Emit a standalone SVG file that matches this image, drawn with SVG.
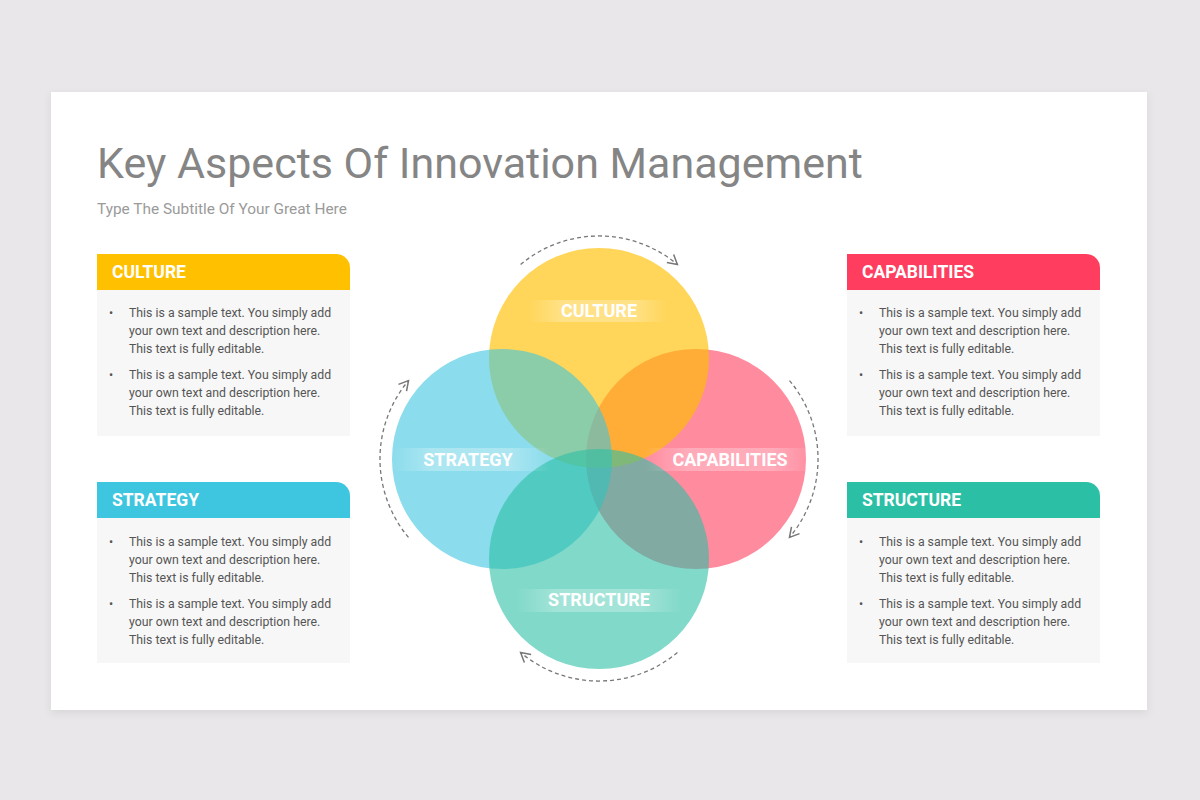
<svg xmlns="http://www.w3.org/2000/svg" width="1200" height="800" viewBox="0 0 1200 800">
<defs>
<style>
.title{font-family:Roboto,"Liberation Sans",sans-serif;font-size:43px;fill:#858585}
.sub{font-family:Roboto,"Liberation Sans",sans-serif;font-size:15.4px;fill:#9a9a9a}
.hd{font-family:Roboto,"Liberation Sans",sans-serif;font-size:17.5px;font-weight:bold;fill:#fff}
.body{font-family:Roboto,"Liberation Sans",sans-serif;font-size:12.3px;fill:#555}
.lbl{font-family:Roboto,"Liberation Sans",sans-serif;font-size:18px;font-weight:bold;fill:#fff;text-anchor:middle}
.cardbg{fill:#f7f7f7}
.arc{fill:none;stroke:#777;stroke-width:1.3;stroke-dasharray:4 3;marker-end:url(#arr)}
</style>
<marker id="arr" markerUnits="userSpaceOnUse" markerWidth="14" markerHeight="14" viewBox="0 0 12 12" refX="10" refY="6" orient="auto">
<path d="M2,1.5 L10,6 L2,10.5" fill="none" stroke="#777" stroke-width="1.3"/>
</marker>
<linearGradient id="band" x1="0" y1="0" x2="1" y2="0">
<stop offset="0" stop-color="#fff" stop-opacity="0"/>
<stop offset="0.25" stop-color="#fff" stop-opacity="0.28"/>
<stop offset="0.75" stop-color="#fff" stop-opacity="0.28"/>
<stop offset="1" stop-color="#fff" stop-opacity="0"/>
</linearGradient>
<filter id="sh" x="-5%" y="-5%" width="110%" height="115%">
<feDropShadow dx="0" dy="3" stdDeviation="4" flood-color="#000" flood-opacity="0.08"/>
</filter>
</defs>
<rect width="1200" height="800" fill="#e9e7e9"/>
<rect x="51" y="92" width="1096" height="618" fill="#fff" filter="url(#sh)"/>

<g id="title">
<text class="title" x="97" y="178">Key Aspects Of Innovation Management</text>
<text class="sub" x="97" y="214">Type The Subtitle Of Your Great Here</text>
</g>

<g id="venn">
<circle cx="696" cy="459" r="110" fill="#ff3e5f" fill-opacity="0.6"/>
<circle cx="599" cy="358" r="110" fill="#ffc000" fill-opacity="0.65"/>
<circle cx="502" cy="459" r="110" fill="#3ec5e0" fill-opacity="0.6"/>
<circle cx="599" cy="559" r="110" fill="#2bbfa5" fill-opacity="0.6"/>
</g>

<g id="label-culture">
<rect x="528" y="300" width="140" height="22" fill="url(#band)"/>
<text class="lbl" x="599" y="317">CULTURE</text>
</g>
<g id="label-strategy">
<rect x="392" y="448" width="158" height="23" fill="url(#band)"/>
<text class="lbl" x="468" y="466">STRATEGY</text>
</g>
<g id="label-capabilities">
<rect x="645" y="448" width="170" height="23" fill="url(#band)"/>
<text class="lbl" x="730" y="466">CAPABILITIES</text>
</g>
<g id="label-structure">
<rect x="515" y="589" width="168" height="23" fill="url(#band)"/>
<text class="lbl" x="599" y="606">STRUCTURE</text>
</g>

<g id="connectors">
<path class="arc" d="M520.6,264.5 A122,122 0 0 1 677.4,264.5"/>
<path class="arc" d="M789.5,380.6 A122,122 0 0 1 789.5,537.4"/>
<path class="arc" d="M677.4,652.5 A122,122 0 0 1 520.6,652.5"/>
<path class="arc" d="M408.5,537.4 A122,122 0 0 1 408.5,380.6"/>
</g>

<g id="card-culture">
<rect class="cardbg" x="97" y="290" width="253" height="146"/>
<path d="M97,254 H336 A14,14 0 0 1 350,268 V290 H97 Z" fill="#ffc000"/>
<text class="hd" x="112" y="278">CULTURE</text>
<text class="body" x="109" y="317">•</text>
<text class="body"><tspan x="129" y="317">This is a sample text. You simply add</tspan><tspan x="129" y="335">your own text and description here.</tspan><tspan x="129" y="353">This text is fully editable.</tspan></text>
<text class="body" x="109" y="379">•</text>
<text class="body"><tspan x="129" y="379">This is a sample text. You simply add</tspan><tspan x="129" y="397">your own text and description here.</tspan><tspan x="129" y="415">This text is fully editable.</tspan></text>
</g>

<g id="card-strategy">
<rect class="cardbg" x="97" y="518" width="253" height="145"/>
<path d="M97,482 H336 A14,14 0 0 1 350,496 V518 H97 Z" fill="#3ec5e0"/>
<text class="hd" x="112" y="506">STRATEGY</text>
<text class="body" x="109" y="545.5">•</text>
<text class="body"><tspan x="129" y="545.5">This is a sample text. You simply add</tspan><tspan x="129" y="563.5">your own text and description here.</tspan><tspan x="129" y="581.5">This text is fully editable.</tspan></text>
<text class="body" x="109" y="607.5">•</text>
<text class="body"><tspan x="129" y="607.5">This is a sample text. You simply add</tspan><tspan x="129" y="625.5">your own text and description here.</tspan><tspan x="129" y="643.5">This text is fully editable.</tspan></text>
</g>

<g id="card-capabilities">
<rect class="cardbg" x="847" y="290" width="253" height="146"/>
<path d="M847,254 H1086 A14,14 0 0 1 1100,268 V290 H847 Z" fill="#ff3e5f"/>
<text class="hd" x="862" y="278">CAPABILITIES</text>
<text class="body" x="859" y="317">•</text>
<text class="body"><tspan x="879" y="317">This is a sample text. You simply add</tspan><tspan x="879" y="335">your own text and description here.</tspan><tspan x="879" y="353">This text is fully editable.</tspan></text>
<text class="body" x="859" y="379">•</text>
<text class="body"><tspan x="879" y="379">This is a sample text. You simply add</tspan><tspan x="879" y="397">your own text and description here.</tspan><tspan x="879" y="415">This text is fully editable.</tspan></text>
</g>

<g id="card-structure">
<rect class="cardbg" x="847" y="518" width="253" height="145"/>
<path d="M847,482 H1086 A14,14 0 0 1 1100,496 V518 H847 Z" fill="#2bbfa5"/>
<text class="hd" x="862" y="506">STRUCTURE</text>
<text class="body" x="859" y="545.5">•</text>
<text class="body"><tspan x="879" y="545.5">This is a sample text. You simply add</tspan><tspan x="879" y="563.5">your own text and description here.</tspan><tspan x="879" y="581.5">This text is fully editable.</tspan></text>
<text class="body" x="859" y="607.5">•</text>
<text class="body"><tspan x="879" y="607.5">This is a sample text. You simply add</tspan><tspan x="879" y="625.5">your own text and description here.</tspan><tspan x="879" y="643.5">This text is fully editable.</tspan></text>
</g>
</svg>
